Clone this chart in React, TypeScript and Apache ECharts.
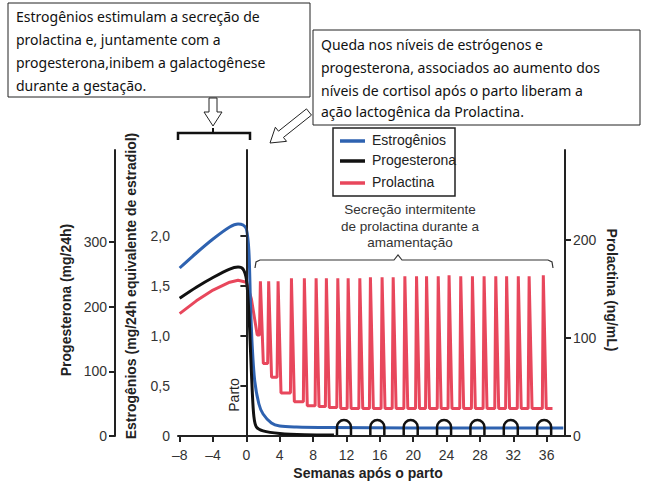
import { useEffect, useRef } from 'react';
import * as echarts from 'echarts';

// semanas relativas ao parto
const weekTicks = [-8, -4, 0, 4, 8, 12, 16, 20, 24, 28, 32, 36];

// estrogênios (mg/24h equivalente de estradiol)
const estrogenData: [number, number][] = [
  [-8, 1.68], [-6, 1.83], [-4, 1.97], [-2, 2.09], [-1, 2.12], [-0.4, 2.11], [0, 2.07],
  [0.3, 1.85], [0.5, 1.3], [0.7, 0.9], [1, 0.55], [1.5, 0.32], [2, 0.22], [3, 0.13],
  [4, 0.1], [6, 0.09], [10, 0.085], [20, 0.08], [38, 0.08],
];

// progesterona (mg/24h)
const progesteroneData: [number, number][] = [
  [-8, 213], [-6, 230], [-4, 245], [-2, 258], [-1, 261], [-0.4, 258], [0, 242],
  [0.3, 190], [0.5, 130], [0.7, 70], [0.9, 30], [1.2, 14], [2, 8], [4, 4], [7, 2], [10.5, 1.5],
];

// prolactina (ng/mL): gestação e início do puerpério
const prolactinStart: [number, number][] = [
  [-8, 125], [-6, 138], [-4, 149], [-2, 157], [-1, 159], [0, 157], [0.6, 140], [1.3, 103],
];
const peakWeeks = [1.68, 2.67, 3.8, 5.4, 6.95, 8.36, 9.59, 10.96, 12.2, 13.6, 14.87, 16.27, 17.6,
  19.0, 20.4, 21.6, 23.0, 24.3, 25.7, 27.1, 28.5, 29.9, 31.2, 32.6, 33.9, 35.6];
const peakValues = [158, 158, 158, 161, 161, 161, 161, 161, 161, 161, 162, 162, 162,
  163, 163, 163, 163, 164, 163, 163, 163, 163, 163, 163, 163, 164];
const troughValues = [74, 60, 44, 35, 31, 30, 29, 28, 28, 28, 28, 28, 28,
  28, 28, 28, 28, 28, 28, 28, 28, 28, 28, 28, 28, 28];
const suckleWeeks = [11.7, 15.7, 19.7, 23.7, 27.7, 31.7, 35.7];

const prolactinData: [number, number][] = [...prolactinStart];
peakWeeks.forEach((w, i) => {
  prolactinData.push([w - 0.12, i === 0 ? 103 : troughValues[i - 1]]);
  prolactinData.push([w, peakValues[i]]);
  prolactinData.push([w + 0.35, troughValues[i]]);
});
prolactinData.push([36.7, 28]);

const AX = 'Liberation Sans, Arial, sans-serif';
const NOTE = 'Noto Sans, sans-serif';

function arrowPoints(tx: number, ty: number, hx: number, hy: number) {
  const dx = hx - tx, dy = hy - ty;
  const len = Math.hypot(dx, dy);
  const ux = dx / len, uy = dy / len, nx = -uy, ny = ux;
  const sw = 4, hw = 9, hl = 14;
  const bx = hx - ux * hl, by = hy - uy * hl;
  return [
    [tx + nx * sw, ty + ny * sw], [bx + nx * sw, by + ny * sw], [bx + nx * hw, by + ny * hw],
    [hx, hy], [bx - nx * hw, by - ny * hw], [bx - nx * sw, by - ny * sw], [tx - nx * sw, ty - ny * sw],
  ];
}

export default function App() {
  const ref = useRef<HTMLDivElement>(null);

  useEffect(() => {
    if (!ref.current) return;
    const chart = echarts.init(ref.current, null, { renderer: 'svg' });
    const axisCommon = {
      axisLine: { show: true, lineStyle: { color: '#222', width: 2 } },
      axisTick: { show: true, length: 6, lineStyle: { color: '#222', width: 2 } },
      axisLabel: { color: '#333', fontSize: 14, fontFamily: AX },
      splitLine: { show: false },
    };
    const legendItems = [
      { name: 'Estrogênios', color: '#2e62b0', y: 141 },
      { name: 'Progesterona', color: '#111', y: 161 },
      { name: 'Prolactina', color: '#e8475c', y: 183 },
    ];
    const noteLine = (x: number, y: number, text: string) => ({
      type: 'text', left: x, top: y,
      style: { text, fontSize: 14, fontFamily: NOTE, fill: '#111' },
    });
    chart.setOption({
      animation: false,
      grid: { left: 178, right: 103, top: 150, bottom: 51 },
      xAxis: {
        type: 'value', min: -8.2, max: 38.2,
        ...axisCommon,
        axisTick: { ...axisCommon.axisTick, customValues: weekTicks },
        axisLabel: {
          ...axisCommon.axisLabel, customValues: weekTicks, margin: 12,
          formatter: (v: number) => (v < 0 ? '–' + Math.abs(v) : String(v)),
        },
      },
      yAxis: [
        {
          type: 'value', min: 0, max: 2.86, position: 'left',
          ...axisCommon,
          axisTick: { ...axisCommon.axisTick, customValues: [0, 0.5, 1, 1.5, 2] },
          axisLabel: {
            ...axisCommon.axisLabel, customValues: [0, 0.5, 1, 1.5, 2],
            formatter: (v: number) => (v === 0 ? '0' : v.toFixed(1).replace('.', ',')),
          },
        },
        {
          type: 'value', min: 0, max: 442, position: 'left', offset: 63,
          ...axisCommon,
          axisTick: { ...axisCommon.axisTick, customValues: [0, 100, 200, 300] },
          axisLabel: { ...axisCommon.axisLabel, customValues: [0, 100, 200, 300] },
        },
        {
          type: 'value', min: 0, max: 292, position: 'right',
          ...axisCommon,
          axisTick: { ...axisCommon.axisTick, customValues: [0, 100, 200] },
          axisLabel: { ...axisCommon.axisLabel, customValues: [0, 100, 200] },
        },
      ],
      series: [
        {
          type: 'line', yAxisIndex: 2, data: prolactinData, showSymbol: false,
          lineStyle: { color: '#e8475c', width: 3 }, z: 2,
        },
        {
          type: 'line', yAxisIndex: 0, data: estrogenData, showSymbol: false, smooth: 0.3,
          lineStyle: { color: '#2e62b0', width: 3 }, z: 3,
          markLine: {
            silent: true, symbol: 'none', label: { show: false },
            lineStyle: { color: '#222', width: 1.5, type: 'solid' },
            data: [{ xAxis: 0 }],
          },
        },
        {
          type: 'line', yAxisIndex: 1, data: progesteroneData, showSymbol: false, smooth: 0.3,
          lineStyle: { color: '#111', width: 3 }, z: 4,
        },
        {
          type: 'custom', yAxisIndex: 0, data: suckleWeeks.map((w) => [w, 0]), z: 5,
          renderItem: (_p: any, api: any) => {
            const c = api.coord([api.value(0), 0]);
            const x = c[0], y = c[1] - 1, r = 7;
            return {
              type: 'path',
              shape: { pathData: `M${x - r} ${y} L${x - r} ${y - 8} A${r} ${r} 0 0 1 ${x + r} ${y - 8} L${x + r} ${y}` },
              style: { stroke: '#111', lineWidth: 2.5, fill: 'none' },
            };
          },
        },
      ],
      graphic: [
        // caixas de texto
        { type: 'rect', shape: { x: 8, y: 3, width: 302, height: 94 }, style: { fill: '#fff', stroke: '#222', lineWidth: 1 } },
        noteLine(16, 9, 'Estrogênios estimulam a secreção de'),
        noteLine(16, 32, 'prolactina e, juntamente com a'),
        noteLine(16, 55, 'progesterona,inibem a galactogênese'),
        noteLine(16, 78, 'durante a gestação.'),
        { type: 'rect', shape: { x: 313, y: 30, width: 327, height: 95 }, style: { fill: '#fff', stroke: '#222', lineWidth: 1 } },
        noteLine(321, 37, 'Queda nos níveis de estrógenos e'),
        noteLine(321, 60, 'progesterona, associados ao aumento dos'),
        noteLine(321, 83, 'níveis de cortisol após o parto liberam a'),
        noteLine(321, 104, 'ação lactogênica da Prolactina.'),
        // setas
        {
          type: 'polygon',
          shape: { points: [[209, 98], [217, 98], [217, 112], [222, 112], [213, 126], [204, 112], [209, 112]] },
          style: { fill: '#fff', stroke: '#222', lineWidth: 1 },
        },
        {
          type: 'polygon', shape: { points: arrowPoints(309, 112, 270, 143) },
          style: { fill: '#fff', stroke: '#222', lineWidth: 1 },
        },
        // chave superior
        {
          type: 'polyline', shape: { points: [[178, 140], [178, 133], [250, 133], [250, 140]] },
          style: { stroke: '#111', lineWidth: 2.5, fill: 'none' },
        },
        { type: 'line', shape: { x1: 213, y1: 128, x2: 213, y2: 133 }, style: { stroke: '#111', lineWidth: 2 } },
        // legenda
        { type: 'rect', shape: { x: 333, y: 128, width: 122, height: 68 }, style: { fill: '#fff', stroke: '#222', lineWidth: 1.5 } },
        ...legendItems.flatMap((it) => [
          { type: 'line', shape: { x1: 340, y1: it.y, x2: 365, y2: it.y }, style: { stroke: it.color, lineWidth: 3.5 } },
          {
            type: 'text', left: 372, top: it.y - 8,
            style: { text: it.name, fontSize: 14, fontFamily: AX, fill: '#222' },
          },
        ]),
        // secreção intermitente
        {
          type: 'text', x: 410, y: 226,
          style: {
            text: 'Secreção intermitente\nde prolactina durante a\namamentação',
            fontSize: 13.5, fontFamily: AX, fill: '#333', align: 'center', verticalAlign: 'middle', lineHeight: 16.5,
          },
        },
        {
          type: 'polyline',
          shape: { points: [[255, 268], [256, 262], [260, 260], [394, 260], [398, 255], [402, 260], [548, 260], [552, 262], [553, 268]] },
          style: { stroke: '#333', lineWidth: 1.2, fill: 'none' },
        },
        {
          type: 'text', x: 234, y: 395, rotation: Math.PI / 2,
          style: { text: 'Parto', fontSize: 14, fontFamily: AX, fill: '#222', align: 'center', verticalAlign: 'middle' },
        },
        // títulos dos eixos
        {
          type: 'text', x: 66, y: 300, rotation: Math.PI / 2,
          style: { text: 'Progesterona (mg/24h)', fontSize: 14, fontWeight: 'bold', fontFamily: AX, fill: '#222', align: 'center', verticalAlign: 'middle' },
        },
        {
          type: 'text', x: 131, y: 286, rotation: Math.PI / 2,
          style: { text: 'Estrogênios (mg/24h equivalente de estradiol)', fontSize: 14, fontWeight: 'bold', fontFamily: AX, fill: '#222', align: 'center', verticalAlign: 'middle' },
        },
        {
          type: 'text', x: 612, y: 290, rotation: -Math.PI / 2,
          style: { text: 'Prolactina (ng/mL)', fontSize: 14, fontWeight: 'bold', fontFamily: AX, fill: '#222', align: 'center', verticalAlign: 'middle' },
        },
        {
          type: 'text', x: 368, y: 473,
          style: { text: 'Semanas após o parto', fontSize: 14, fontWeight: 'bold', fontFamily: AX, fill: '#222', align: 'center', verticalAlign: 'middle' },
        },
      ],
    });
    return () => chart.dispose();
  }, []);

  return <div ref={ref} style={{ width: 668, height: 487, position: 'absolute', left: 0, top: 0 }} />;
}
